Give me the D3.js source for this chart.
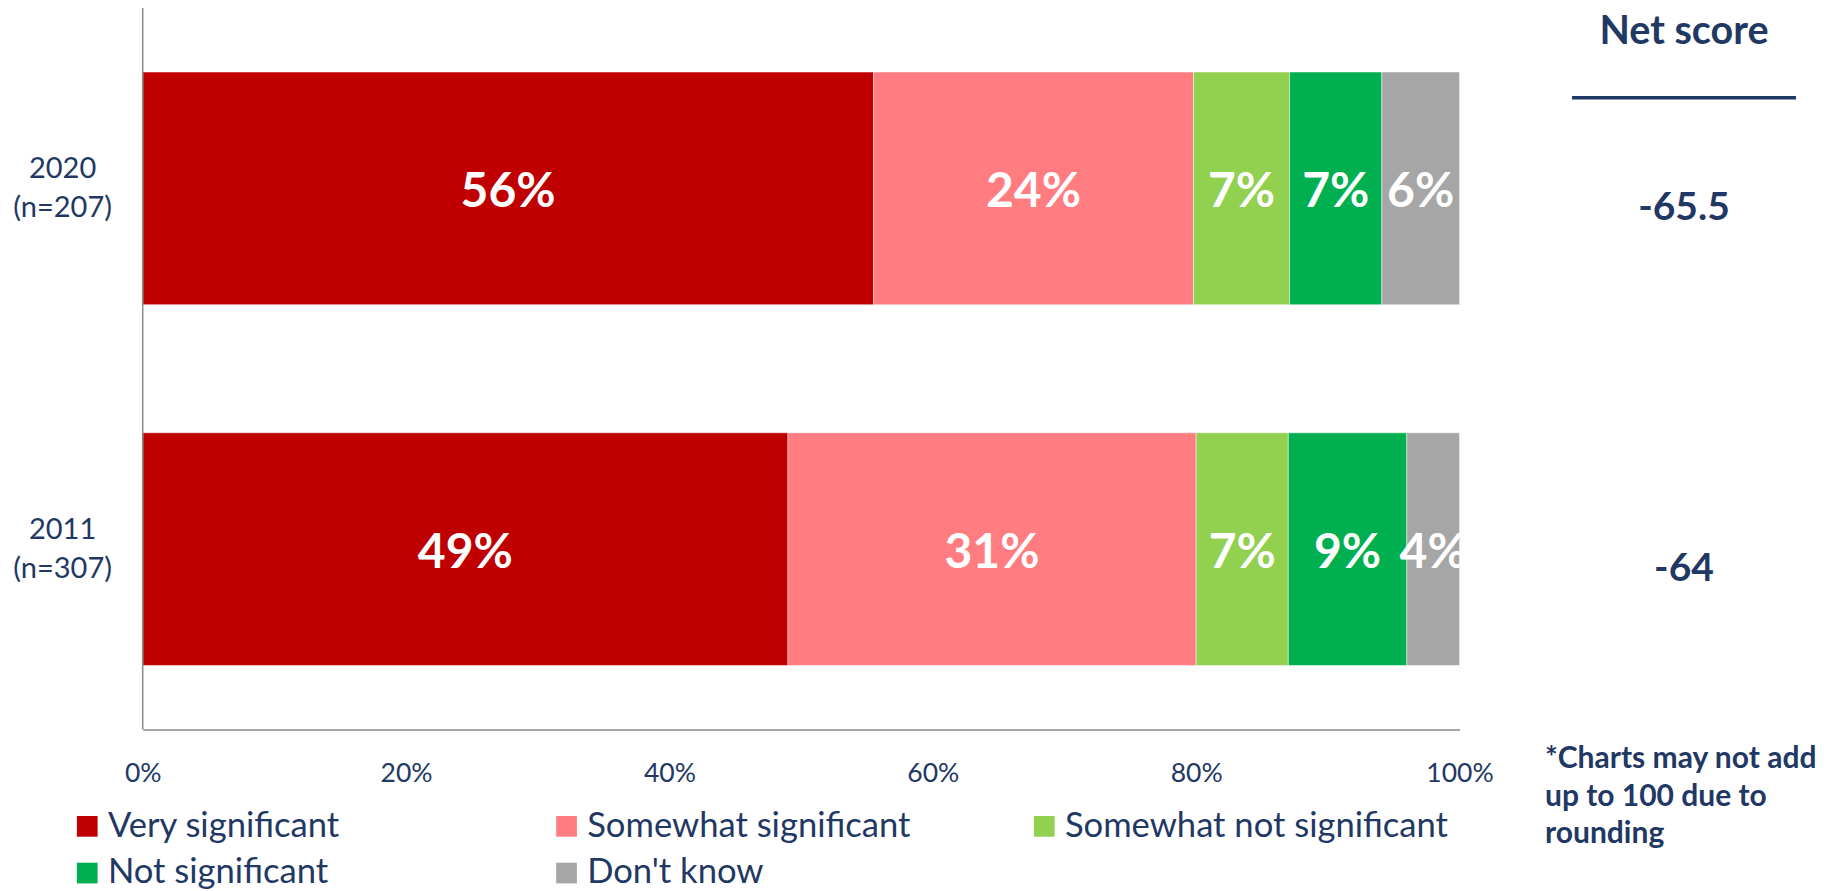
<!DOCTYPE html>
<html>
<head>
<meta charset="utf-8">
<script src="https://cdn.jsdelivr.net/npm/d3@7"></script>
<style>
  html, body { margin: 0; padding: 0; background: #ffffff; }
  svg { display: block; }
  text { font-family: Lato, "Open Sans", sans-serif; }
</style>
</head>
<body>
<svg id="chart" width="1828" height="891"></svg>
<script>
// Survey responses by year (percent of respondents)
const categories = ["2020", "2011"];
const sampleSizes = ["(n=207)", "(n=307)"];
const seriesNames = ["Very significant", "Somewhat significant", "Somewhat not significant", "Not significant", "Don't know"];
const seriesColors = ["#C00000", "#FF7C80", "#92D050", "#00B050", "#A6A6A6"];
const verySignificant = [55.5, 49.0];
const somewhatSignificant = [24.3, 31.0];
const somewhatNotSignificant = [7.3, 7.0];
const notSignificant = [7.0, 9.0];
const dontKnow = [5.9, 4.0];
const netScores = ["-65.5", "-64"];
const tickValues = [0, 20, 40, 60, 80, 100];
const footnoteLines = ["*Charts may not add", "up to 100 due to", "rounding"];

const seriesValues = [verySignificant, somewhatSignificant, somewhatNotSignificant, notSignificant, dontKnow];
const navy = "#1F3864";
const axisGray = "#898989";

const svg = d3.select("#chart");

const plot = { left: 142.7, right: 1459.5, top: 8, bottom: 729.5 };

const x = d3.scaleLinear().domain([0, 100]).range([plot.left, plot.right]);
const y = d3.scaleBand()
  .domain(categories)
  .range([plot.top, plot.bottom])
  .paddingInner(0.355)
  .paddingOuter(0.1775);

// Stack the series for each year
const rows = categories.map((c, i) => {
  const obj = { category: c };
  seriesNames.forEach((s, j) => { obj[s] = seriesValues[j][i]; });
  return obj;
});
const stacked = d3.stack().keys(seriesNames)(rows);

svg.append("defs").append("clipPath").attr("id", "plotClip")
  .append("rect")
  .attr("x", plot.left).attr("y", plot.top)
  .attr("width", plot.right - plot.left).attr("height", plot.bottom - plot.top);

// Bars
const layers = svg.append("g").selectAll("g")
  .data(stacked)
  .join("g")
  .attr("fill", (d, i) => seriesColors[i]);

layers.selectAll("rect")
  .data(d => d)
  .join("rect")
  .attr("x", d => x(d[0]))
  .attr("y", d => y(d.data.category))
  .attr("width", d => x(d[1]) - x(d[0]))
  .attr("height", y.bandwidth())
  .attr("stroke", "#ffffff")
  .attr("stroke-opacity", 0.45)
  .attr("stroke-width", 1);

// Segment value labels
const labelSize = 48;
const labels = svg.append("g").attr("clip-path", "url(#plotClip)");
stacked.forEach(layer => {
  labels.selectAll(null)
    .data(layer)
    .join("text")
    .attr("x", d => (x(d[0]) + x(d[1])) / 2)
    .attr("y", d => y(d.data.category) + y.bandwidth() / 2 + labelSize * 0.35 + 2)
    .attr("text-anchor", "middle")
    .attr("fill", "#ffffff")
    .attr("font-weight", 700)
    .attr("font-size", labelSize)
    .text(d => Math.round(d[1] - d[0]) + "%");
});

// Axes lines
svg.append("line")
  .attr("x1", plot.left).attr("x2", plot.left)
  .attr("y1", plot.top).attr("y2", plot.bottom)
  .attr("stroke", axisGray).attr("stroke-width", 1.5);

const xAxis = d3.axisBottom(x)
  .tickValues(tickValues)
  .tickSize(0)
  .tickPadding(0)
  .tickFormat(d => d + "%");

const xg = svg.append("g")
  .attr("transform", `translate(0,${plot.bottom})`)
  .call(xAxis);
xg.select(".domain").attr("stroke", axisGray).attr("stroke-width", 1.5);
xg.selectAll(".tick text")
  .attr("dy", null)
  .attr("y", 52)
  .attr("fill", navy)
  .attr("font-size", 26.5)
  .attr("font-family", "Lato, 'Open Sans', sans-serif");

// Category labels
const catG = svg.append("g");
categories.forEach((c, i) => {
  const cy = y(c) + y.bandwidth() / 2;
  const t = catG.append("text")
    .attr("text-anchor", "middle")
    .attr("fill", navy)
    .attr("font-size", 29);
  t.append("tspan").attr("x", 62.6).attr("y", cy - 10.5).text(c);
  t.append("tspan").attr("x", 62.6).attr("y", cy + 29).text(sampleSizes[i]);
});

// Net score column
const netX = 1684;
svg.append("text")
  .attr("x", netX).attr("y", 44.3)
  .attr("text-anchor", "middle")
  .attr("fill", navy)
  .attr("font-weight", 700)
  .attr("font-size", 39.5)
  .text("Net score");
svg.append("line")
  .attr("x1", 1572).attr("x2", 1796)
  .attr("y1", 97.8).attr("y2", 97.8)
  .attr("stroke", navy).attr("stroke-width", 3.5);

const netSize = 39;
svg.append("g").selectAll("text")
  .data(netScores)
  .join("text")
  .attr("x", netX)
  .attr("y", (d, i) => y(categories[i]) + y.bandwidth() / 2 + 18 + netSize * 0.35)
  .attr("text-anchor", "middle")
  .attr("fill", navy)
  .attr("font-weight", 700)
  .attr("font-size", netSize)
  .text(d => d);

// Footnote
const foot = svg.append("text")
  .attr("fill", navy)
  .attr("font-weight", 700)
  .attr("font-size", 30);
footnoteLines.forEach((line, i) => {
  foot.append("tspan").attr("x", 1545).attr("y", 768.3 + i * 37.5).text(line);
});

// Legend
const legendCols = [76.9, 556.2, 1033.9];
const legendRows = [816, 862.7];
const sw = 20.7;
const legend = svg.append("g").selectAll("g")
  .data(seriesNames)
  .join("g")
  .attr("transform", (d, i) => `translate(${legendCols[i % 3]},${legendRows[Math.floor(i / 3)]})`);
legend.append("rect")
  .attr("width", sw).attr("height", sw)
  .attr("fill", (d, i) => seriesColors[i]);
legend.append("text")
  .attr("x", 31)
  .attr("y", sw)
  .attr("fill", navy)
  .attr("font-size", 34.6)
  .text(d => d);
</script>
</body>
</html>
